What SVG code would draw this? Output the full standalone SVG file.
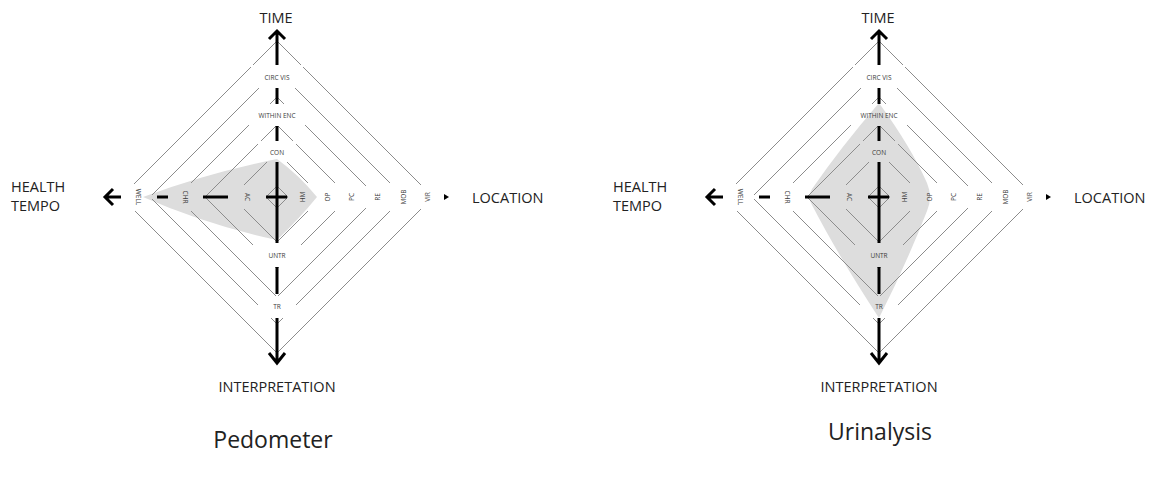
<svg xmlns="http://www.w3.org/2000/svg" xmlns:xlink="http://www.w3.org/1999/xlink" width="1158" height="483" viewBox="0 0 1158 483">
  <style>
    .ring { fill: none; stroke: #8c8c8c; stroke-width: 1; }
    .axis { fill: none; stroke: #000; stroke-width: 3; stroke-linecap: butt; stroke-linejoin: miter; }
    .tick { font-family: "Open Sans", "Liberation Sans", sans-serif; font-size: 6.5px; fill: #3a3a3a; text-anchor: middle; dominant-baseline: central; }
    .dim { font-family: "Open Sans", "Liberation Sans", sans-serif; font-size: 14.5px; fill: #222; }
    .mid { text-anchor: middle; }
    .title { font-family: "Open Sans", "Liberation Sans", sans-serif; font-size: 23px; fill: #222; text-anchor: middle; }
    .shade { fill: #dddddd; stroke: none; }
  </style>
  <defs>
    <!-- holes cut into the rings where the scale labels sit -->
    <mask id="label-gaps" maskUnits="userSpaceOnUse" x="-200" y="-200" width="400" height="400">
      <rect x="-200" y="-200" width="400" height="400" fill="#fff"/>
      <g fill="#000">
        <rect x="-26" y="-132" width="52" height="23"/>
        <rect x="-28" y="-93" width="56" height="22"/>
        <rect x="-19" y="-56" width="38" height="21"/>
        <rect x="-24" y="47" width="48" height="23"/>
        <rect x="-19" y="99" width="38" height="22"/>
        <rect x="-158" y="-13" width="33" height="27"/>
        <rect x="-105" y="-14" width="24" height="28"/>
        <rect x="-48" y="-12" width="25" height="24"/>
        <rect x="14" y="-14" width="24" height="28"/>
        <rect x="38" y="-14" width="24" height="28"/>
        <rect x="60" y="-12" width="25" height="24"/>
        <rect x="87" y="-11" width="25" height="22"/>
        <rect x="112" y="-14" width="25" height="28"/>
        <rect x="141" y="-12" width="20" height="24"/>
      </g>
    </mask>

    <!-- shared radar frame, centred on (0,0) -->
    <g id="frame">
      <g class="ring" mask="url(#label-gaps)">
        <polygon points="0,-11 11,0 0,11 -11,0"/>
        <polygon points="0,-45 45,0 0,45 -45,0"/>
        <polygon points="0,-72 72,0 0,72 -72,0"/>
        <polygon points="0,-100 100,0 0,100 -100,0"/>
        <polygon points="0,-127 127,0 0,127 -127,0"/>
        <polygon points="0,-156 156,0 0,156 -156,0"/>
      </g>
      <g class="axis">
        <!-- time axis (up) and interpretation axis (down) -->
        <path d="M0,-132 V-166 M-8,-158 L0,-166 L8,-158"/>
        <path d="M0,-109 V-93"/>
        <path d="M0,-71 V-56"/>
        <path d="M0,-35 V46"/>
        <path d="M0,70 V97"/>
        <path d="M0,121 V166 M-8,156 L0,166 L8,156"/>
        <!-- health tempo axis (left) -->
        <path d="M-156,0 H-172 M-164,-8 L-172,0 L-164,8"/>
        <path d="M-120,0 H-109"/>
        <path d="M-74,0 H-49"/>
        <path d="M-11,0 H10"/>
      </g>
      <!-- location axis tip -->
      <polygon points="167,-3 172,0 167,3" fill="#000"/>

      <g class="tick">
        <text x="0" y="-120">CIRC VIS</text>
        <text x="0" y="-82">WITHIN ENC</text>
        <text x="0" y="-45">CON</text>
        <text x="0" y="58">UNTR</text>
        <text x="0" y="109">TR</text>
        <text transform="translate(-139,0) rotate(90)">WELL</text>
        <text transform="translate(-92,0) rotate(90)">CHR</text>
        <text transform="translate(-30,0) rotate(90)">AC</text>
        <text transform="translate(25,0) rotate(-90)">HM</text>
        <text transform="translate(50,0) rotate(-90)">OP</text>
        <text transform="translate(74,0) rotate(-90)">PC</text>
        <text transform="translate(100,0) rotate(-90)">RE</text>
        <text transform="translate(126,0) rotate(-90)">MOB</text>
        <text transform="translate(150,0) rotate(-90)">VIR</text>
      </g>

      <g class="dim">
        <text class="mid" x="-1" y="-174">TIME</text>
        <text class="mid" x="0" y="195">INTERPRETATION</text>
        <text x="195" y="6">LOCATION</text>
        <text x="-266" y="-5">HEALTH</text>
        <text x="-266" y="14">TEMPO</text>
      </g>
    </g>
  </defs>

  <g id="pedometer-chart" transform="translate(277,197)">
    <path class="shade" d="M-134,0 Q-70,-24 0,-38 Q22,-22 40,0 Q22,22 0,43 Q-70,28 -134,0 Z"/>
    <use xlink:href="#frame"/>
  </g>
  <text id="pedometer-title" class="title" x="273" y="448">Pedometer</text>

  <g id="urinalysis-chart" transform="translate(879,197)">
    <path class="shade" d="M0,-94 Q32,-50 48,-14 Q54,0 48,14 Q26,70 0,121 Q-40,60 -67,8 Q-72,0 -67,-8 Q-38,-50 0,-94 Z"/>
    <use xlink:href="#frame"/>
  </g>
  <text id="urinalysis-title" class="title" x="880" y="440">Urinalysis</text>
</svg>
